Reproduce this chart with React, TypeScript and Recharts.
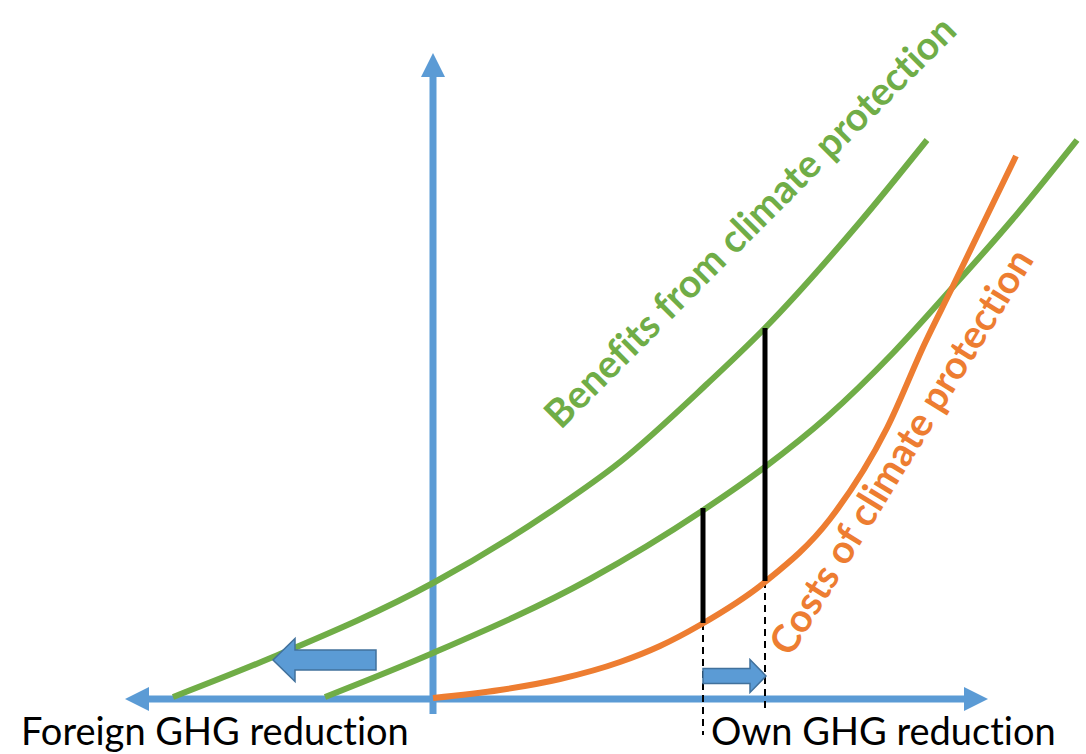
import {
  ComposedChart,
  Line,
  XAxis,
  YAxis,
  ReferenceLine,
  ReferenceDot,
} from "recharts";

/* ---------------- DATA ---------------- */

// benefits curve incl. foreign reductions (upper green)
const benefitsAllX = [-26.0, -16.0, 0, 11.7, 18.7, 27.4, 33.2, 42.7, 49.4];
const benefitsAllY = [0.2, 4.2, 11.6, 18.7, 23.7, 31.5, 37.1, 47.7, 55.9];

// benefits curve, own reductions only (lower green)
const benefitsOwnX = [-10.8, 0, 15.7, 26.9, 33.2, 39.4, 46.0, 52.0, 57.9, 64.4];
const benefitsOwnY = [0.2, 4.6, 12.0, 18.8, 23.2, 28.2, 34.6, 41.2, 47.9, 55.9];

// costs of climate protection (orange)
const costsX = [0, 6.7, 12.7, 18.7, 22.7, 26.7, 33.2, 39.7, 45.4, 49.2, 51.9, 54.9, 58.3];
const costsY = [0.1, 0.9, 2.0, 3.7, 5.3, 7.4, 11.7, 18.0, 27.1, 35.6, 41.1, 47.3, 54.3];

// optimum points: x, lower end, upper end
const optimumX = [27.0, 33.2];
const optimumLow = [7.6, 11.8];
const optimumHigh = [19.1, 37.1];
const dropEnd = [-3.6, -1.1];

// axis extents
const hAxis = { from: -30.8, to: 55.5 };
const vAxis = { from: -1.5, to: 64.6 };

// shift arrows: [tail x, tip x, y]
const foreignShift = [-5.7, -16.0, 3.9];
const ownShift = [27.0, 33.3, 2.3];

const labels = {
  benefits: "Benefits from climate protection",
  costs: "Costs of climate protection",
  foreign: "Foreign GHG reduction",
  own: "Own GHG reduction",
};

const toPoints = (xs: number[], ys: number[]) => xs.map((x, i) => ({ x, y: ys[i] }));

const BLUE = "#5B9BD5";
const GREEN = "#70AD47";
const ORANGE = "#ED7D31";
const FONT = "Lato, 'Open Sans', sans-serif";

/* ---------------- SHAPES ---------------- */

function axisShape(startHead: boolean, endHead: boolean) {
  return (p: any) => {
    const { x1, y1, x2, y2 } = p;
    const len = Math.hypot(x2 - x1, y2 - y1);
    const ux = (x2 - x1) / len;
    const uy = (y2 - y1) / len;
    const hl = 24;
    const hw = 12;
    const sx = startHead ? x1 + ux * hl : x1;
    const sy = startHead ? y1 + uy * hl : y1;
    const ex = endHead ? x2 - ux * hl : x2;
    const ey = endHead ? y2 - uy * hl : y2;
    const head = (tx: number, ty: number, dx: number, dy: number) => {
      const bx = tx - dx * hl;
      const by = ty - dy * hl;
      return `${tx},${ty} ${bx - dy * hw},${by + dx * hw} ${bx + dy * hw},${by - dx * hw}`;
    };
    return (
      <g>
        <line x1={sx} y1={sy} x2={ex} y2={ey} stroke={BLUE} strokeWidth={7} />
        {startHead && <polygon points={head(x1, y1, -ux, -uy)} fill={BLUE} />}
        {endHead && <polygon points={head(x2, y2, ux, uy)} fill={BLUE} />}
      </g>
    );
  };
}

function blockArrow(shaft: number, headH: number, headL: number) {
  return (p: any) => {
    const { x1, y1, x2 } = p;
    const dir = x2 > x1 ? 1 : -1;
    const bx = x2 - dir * headL;
    const pts = [
      [x1, y1 - shaft],
      [bx, y1 - shaft],
      [bx, y1 - headH],
      [x2, y1],
      [bx, y1 + headH],
      [bx, y1 + shaft],
      [x1, y1 + shaft],
    ]
      .map((q) => q.join(","))
      .join(" ");
    return <polygon points={pts} fill={BLUE} stroke="#41719C" strokeWidth={1.5} />;
  };
}

function textShape(
  text: string,
  color: string,
  angle: number,
  size: number,
  bold: boolean,
  anchor: "start" | "middle"
) {
  return (p: any) => (
    <text
      x={p.cx}
      y={p.cy}
      fill={color}
      fontSize={size}
      fontWeight={bold ? 700 : 400}
      fontFamily={FONT}
      textAnchor={anchor}
      dominantBaseline={anchor === "middle" ? "central" : "alphabetic"}
      style={{ fontVariantLigatures: "none", fontFeatureSettings: '"liga" 0, "clig" 0, "dlig" 0' }}
      transform={angle ? `rotate(${angle} ${p.cx} ${p.cy})` : undefined}
    >
      {text}
    </text>
  );
}

/* ---------------- CHART ---------------- */

export default function App() {
  return (
    <div style={{ position: "absolute", left: 0, top: 0, background: "#fff" }}>
      <ComposedChart width={1086} height={754} margin={{ top: 0, right: 0, bottom: 0, left: 0 }}>
        <XAxis type="number" dataKey="x" domain={[-43.3, 65.3]} hide allowDataOverflow />
        <YAxis type="number" dataKey="y" domain={[-5.5, 69.9]} hide allowDataOverflow />

        {/* axes */}
        <ReferenceLine
          segment={[{ x: hAxis.from, y: 0 }, { x: hAxis.to, y: 0 }]}
          shape={axisShape(true, true)}
          ifOverflow="visible"
        />
        <ReferenceLine
          segment={[{ x: 0, y: vAxis.from }, { x: 0, y: vAxis.to }]}
          shape={axisShape(false, true)}
          ifOverflow="visible"
        />

        {/* dashed drop lines */}
        {optimumX.map((x, i) => (
          <ReferenceLine
            key={`d${i}`}
            segment={[{ x, y: optimumLow[i] }, { x, y: dropEnd[i] }]}
            stroke="#000"
            strokeWidth={2}
            strokeDasharray="7 5"
            ifOverflow="visible"
          />
        ))}

        <Line
          data={toPoints(benefitsAllX, benefitsAllY)}
          dataKey="y"
          type="monotone"
          stroke={GREEN}
          strokeWidth={6}
          dot={false}
          activeDot={false}
          isAnimationActive={false}
        />
        <Line
          data={toPoints(benefitsOwnX, benefitsOwnY)}
          dataKey="y"
          type="monotone"
          stroke={GREEN}
          strokeWidth={6}
          dot={false}
          activeDot={false}
          isAnimationActive={false}
        />
        <Line
          data={toPoints(costsX, costsY)}
          dataKey="y"
          type="monotone"
          stroke={ORANGE}
          strokeWidth={6}
          dot={false}
          activeDot={false}
          isAnimationActive={false}
        />

        {/* net benefit gaps */}
        {optimumX.map((x, i) => (
          <ReferenceLine
            key={`b${i}`}
            segment={[{ x, y: optimumLow[i] }, { x, y: optimumHigh[i] }]}
            stroke="#000"
            strokeWidth={5}
            ifOverflow="visible"
          />
        ))}

        {/* shift arrows */}
        <ReferenceLine
          segment={[{ x: foreignShift[0], y: foreignShift[2] }, { x: foreignShift[1], y: foreignShift[2] }]}
          shape={blockArrow(10, 21.5, 22)}
          ifOverflow="visible"
        />
        <ReferenceLine
          segment={[{ x: ownShift[0], y: ownShift[2] }, { x: ownShift[1], y: ownShift[2] }]}
          shape={blockArrow(7.5, 16.5, 16)}
          ifOverflow="visible"
        />

        {/* labels */}
        <ReferenceDot x={31.6} y={47.8} r={0} ifOverflow="visible" shape={textShape(labels.benefits, GREEN, -45, 39, true, "middle")} />
        <ReferenceDot x={46.7} y={24.8} r={0} ifOverflow="visible" shape={textShape(labels.costs, ORANGE, -58.5, 39, true, "middle")} />
        <ReferenceDot x={-41.2} y={-4.6} r={0} ifOverflow="visible" shape={textShape(labels.foreign, "#000", 0, 38, false, "start")} />
        <ReferenceDot x={27.8} y={-4.6} r={0} ifOverflow="visible" shape={textShape(labels.own, "#000", 0, 38, false, "start")} />
      </ComposedChart>
    </div>
  );
}
